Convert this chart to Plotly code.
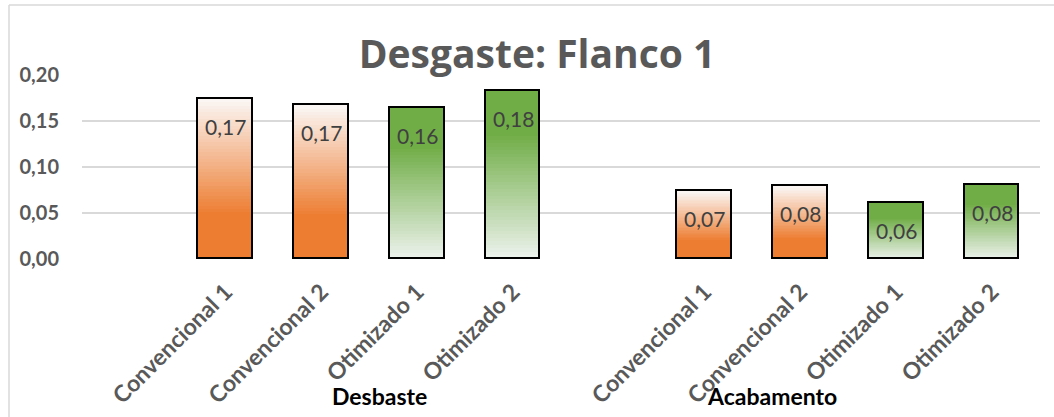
import plotly.graph_objects as go

# ---- data ----
groups = ["Desbaste", "Acabamento"]
categories = ["Convencional 1", "Convencional 2", "Otimizado 1", "Otimizado 2"]
desbaste = [0.174, 0.167, 0.164, 0.183]
acabamento = [0.074, 0.079, 0.061, 0.081]
value_labels = ["0,17", "0,17", "0,16", "0,18", "0,07", "0,08", "0,06", "0,08"]
y_tick_vals = [0.00, 0.05, 0.10, 0.15, 0.20]
y_tick_text = ["0,00", "0,05", "0,10", "0,15", "0,20"]

# ---- layout helpers ----
FONT = "Lato"
values = desbaste + acabamento
labels = categories + categories
n_cat = len(categories)
# one empty slot before each group
xpos = [g * (n_cat + 1) + 1 + i for g in range(len(groups)) for i in range(n_cat)]
kinds = ["orange", "orange", "green", "green"] * len(groups)

ORANGE_SCALE = [(0.0, (237, 125, 49)), (0.28, (237, 125, 49)), (1.0, (251, 247, 246))]
GREEN_SCALE = [(0.0, (238, 243, 238)), (0.74, (112, 173, 71)), (1.0, (112, 173, 71))]


def interp(scale, t):
    for (t0, c0), (t1, c1) in zip(scale[:-1], scale[1:]):
        if t <= t1:
            f = 0 if t1 == t0 else (t - t0) / (t1 - t0)
            return "rgb(%d,%d,%d)" % tuple(round(a + (b - a) * f) for a, b in zip(c0, c1))
    return "rgb(%d,%d,%d)" % scale[-1][1]


N = 48
BAR_W = 0.57
fig = go.Figure()

# gradient fill: each bar stacked from N thin slices
for k in range(N):
    t = (k + 0.5) / N
    cols = [interp(ORANGE_SCALE if kd == "orange" else GREEN_SCALE, t) for kd in kinds]
    fig.add_trace(go.Bar(
        x=xpos, y=[v / N for v in values], width=BAR_W,
        marker=dict(color=cols, line=dict(width=0)),
        showlegend=False, hoverinfo="skip",
    ))

# outline of each bar
fig.add_trace(go.Bar(
    x=xpos, y=values, width=BAR_W, xaxis="x2",
    marker=dict(color="rgba(0,0,0,0)", line=dict(color="black", width=1.8)),
    showlegend=False, hovertemplate="%{y}<extra></extra>",
))

# value labels inside the top of each bar
for x, v, lab in zip(xpos, values, value_labels):
    fig.add_annotation(x=x, y=v, xref="x", yref="y", text=lab, showarrow=False,
                       yanchor="top", yshift=-13,
                       font=dict(family=FONT, size=21, color="#404040"))

# group labels
group_x = [2.61, 6.70]
for gx, g in zip(group_x, groups):
    fig.add_annotation(x=gx, y=-0.745, xref="x", yref="paper", text="<b>%s</b>" % g,
                       showarrow=False, yanchor="middle",
                       font=dict(family=FONT, size=23, color="black"))

# chart frame (only top/left edges visible in the crop)
fig.add_shape(type="line", xref="paper", yref="paper", x0=-0.0762, x1=1.02, y0=1.38, y1=1.38,
              line=dict(color="#D9D9D9", width=1.5))
fig.add_shape(type="line", xref="paper", yref="paper", x0=-0.0762, x1=-0.0762, y0=1.38, y1=-0.87,
              line=dict(color="#D9D9D9", width=1.5))

fig.update_layout(
    width=1054, height=417,
    margin=dict(l=82, r=14, t=75, b=158, autoexpand=False),
    paper_bgcolor="white", plot_bgcolor="white",
    barmode="stack", bargap=0,
    showlegend=False,
    title=dict(text="<b>Desgaste: Flanco 1</b>", x=537 / 1054, xanchor="center",
               xref="container", y=1 - 54 / 417, yanchor="middle", yref="container",
               font=dict(family="Open Sans", size=39, color="#595959")),
    xaxis=dict(range=[-0.5, 9.5], tickvals=xpos, ticktext=labels, tickangle=-45,
               showgrid=False, zeroline=False, showline=False, ticks="",
               ticklabelstandoff=14, automargin=False,
               tickfont=dict(family=FONT, size=23, color="#595959", weight="bold")),
    xaxis2=dict(overlaying="x", matches="x", visible=False),
    yaxis=dict(range=[0, 0.2001], tickvals=y_tick_vals, ticktext=y_tick_text,
               showgrid=True, gridcolor="#D9D9D9", gridwidth=1.5, automargin=False,
               zeroline=False, showline=False, ticks="", ticklabelstandoff=22,
               tickfont=dict(family=FONT, size=20, color="#595959", weight="bold")),
)

fig.write_html("out.html")
